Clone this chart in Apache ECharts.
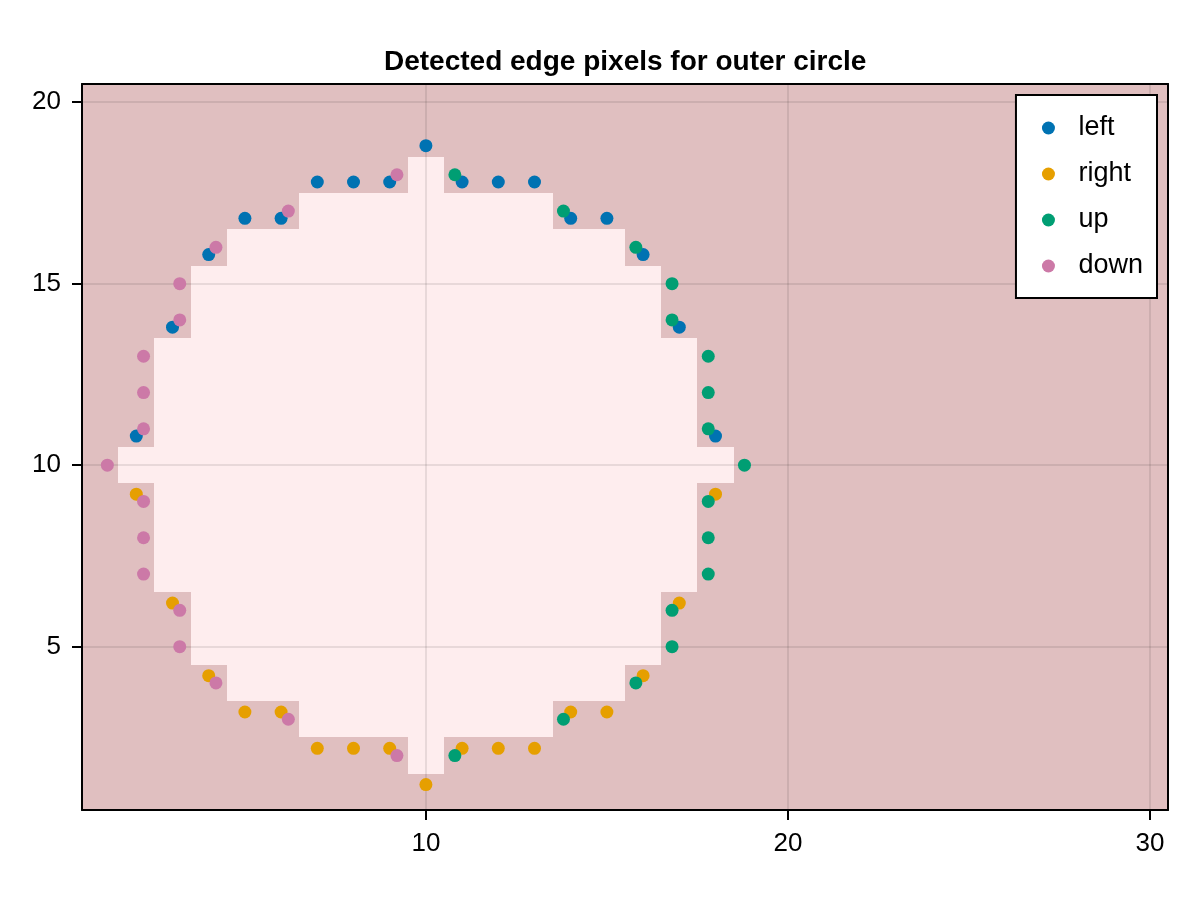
<!DOCTYPE html>
<html>
<head>
<meta charset="utf-8">
<script src="https://cdn.jsdelivr.net/npm/echarts@6/dist/echarts.min.js"></script>
<style>
  html, body { margin: 0; padding: 0; background: #fff; }
  #main { width: 1200px; height: 900px; }
</style>
</head>
<body>
<div id="main"></div>
<script>
var myChart = echarts.init(document.getElementById('main'));

// image size (pixels)
var nCols = 30;
var nRows = 20;

// filled pixels per row: [y, xFirst, xLast]
var insideRows = [
    [2, 10, 10], [3, 7, 13], [4, 5, 15], [5, 4, 16], [6, 4, 16],
    [7, 3, 17], [8, 3, 17], [9, 3, 17], [10, 2, 18], [11, 3, 17],
    [12, 3, 17], [13, 3, 17], [14, 4, 16], [15, 4, 16], [16, 5, 15],
    [17, 7, 13], [18, 10, 10]
];

// detected edge points
var leftPoints = [
    [10, 18.8], [7, 17.8], [8, 17.8], [9, 17.8], [11, 17.8], [12, 17.8], [13, 17.8],
    [5, 16.8], [6, 16.8], [14, 16.8], [15, 16.8], [4, 15.8], [16, 15.8],
    [3, 13.8], [17, 13.8], [2, 10.8], [18, 10.8]
];
var rightPoints = [
    [10, 1.2], [7, 2.2], [8, 2.2], [9, 2.2], [11, 2.2], [12, 2.2], [13, 2.2],
    [5, 3.2], [6, 3.2], [14, 3.2], [15, 3.2], [4, 4.2], [16, 4.2],
    [3, 6.2], [17, 6.2], [2, 9.2], [18, 9.2]
];
var upPoints = [
    [10.8, 18], [10.8, 2], [13.8, 17], [13.8, 3], [15.8, 16], [15.8, 4],
    [16.8, 15], [16.8, 14], [16.8, 6], [16.8, 5],
    [17.8, 13], [17.8, 12], [17.8, 11], [17.8, 9], [17.8, 8], [17.8, 7], [18.8, 10]
];
var downPoints = [
    [1.2, 10], [2.2, 13], [2.2, 12], [2.2, 11], [2.2, 9], [2.2, 8], [2.2, 7],
    [3.2, 15], [3.2, 14], [3.2, 6], [3.2, 5], [4.2, 16], [4.2, 4],
    [6.2, 17], [6.2, 3], [9.2, 18], [9.2, 2]
];

var xTicks = [10, 20, 30];
var yTicks = [5, 10, 15, 20];

// build the cell list for the image
var cells = [];
for (var y = 1; y <= nRows; y++) {
    var span = insideRows.filter(function (r) { return r[0] === y; })[0];
    for (var x = 1; x <= nCols; x++) {
        var v = span && x >= span[1] && x <= span[2] ? 1 : 0;
        cells.push([x, y, v]);
    }
}

var font = 'Liberation Sans, Arial, Helvetica, sans-serif';
var gridColor = 'rgba(0,0,0,0.085)';

function mainAxis(ticks, extra) {
    return Object.assign({
        type: 'value',
        z: 3,
        axisLine: { show: true, onZero: false, lineStyle: { color: '#000', width: 2 } },
        axisTick: { show: true, inside: false, length: 10, customValues: ticks,
                    lineStyle: { color: '#000', width: 2 } },
        splitLine: { show: true, lineStyle: { color: gridColor, width: 2 } }
    }, extra);
}

function frameAxis(extra) {
    return Object.assign({
        type: 'value',
        z: 3,
        axisLine: { show: true, onZero: false, lineStyle: { color: '#000', width: 2 } },
        axisTick: { show: false },
        axisLabel: { show: false },
        splitLine: { show: false }
    }, extra);
}

function scatter(name, data, color) {
    return {
        name: name,
        type: 'scatter',
        z: 5,
        symbol: 'circle',
        symbolSize: 13,
        itemStyle: { color: color, opacity: 1 },
        data: data
    };
}

myChart.setOption({
    animation: false,
    title: {
        text: 'Detected edge pixels for outer circle',
        left: 384,
        top: 48,
        padding: 0,
        textStyle: { fontSize: 28, fontWeight: 'bold', fontFamily: font, color: '#000' }
    },
    legend: {
        data: ['left', 'right', 'up', 'down'],
        orient: 'vertical',
        right: 43,
        top: 95,
        icon: 'circle',
        itemWidth: 50,
        itemHeight: 13,
        itemGap: 16,
        padding: [18, 14, 17, 26],
        backgroundColor: '#fff',
        borderColor: '#000',
        borderWidth: 2,
        borderRadius: 0,
        textStyle: { fontSize: 27, fontFamily: font, color: '#000', lineHeight: 30 }
    },
    grid: { left: 82, right: 32, top: 84, bottom: 90 },
    xAxis: [
        mainAxis(xTicks, { position: 'bottom', min: 0.5, max: nCols + 0.5,
            axisLabel: { customValues: xTicks, color: '#000', fontSize: 26, fontFamily: font, margin: 21 } }),
        frameAxis({ position: 'top', min: 0.5, max: nCols + 0.5 })
    ],
    yAxis: [
        mainAxis(yTicks, { position: 'left', min: 0.5, max: nRows + 0.5,
            axisLabel: { customValues: yTicks, color: '#000', fontSize: 26, fontFamily: font, margin: 21 } }),
        frameAxis({ position: 'right', min: 0.5, max: nRows + 0.5 })
    ],
    series: [
        {
            type: 'custom',
            z: 1,
            silent: true,
            encode: { x: 0, y: 1 },
            renderItem: function (params, api) {
                var cx = api.value(0), cy = api.value(1);
                var p0 = api.coord([cx - 0.5, cy + 0.5]);
                var p1 = api.coord([cx + 0.5, cy - 0.5]);
                var x0 = Math.round(p0[0]), y0 = Math.round(p0[1]);
                var x1 = Math.round(p1[0]), y1 = Math.round(p1[1]);
                return {
                    type: 'rect',
                    shape: { x: x0, y: y0, width: x1 - x0, height: y1 - y0 },
                    style: { fill: api.value(2) ? '#feedee' : '#e0bfc0' }
                };
            },
            data: cells
        },
        scatter('left', leftPoints, '#0072b2'),
        scatter('right', rightPoints, '#e69f00'),
        scatter('up', upPoints, '#009e73'),
        scatter('down', downPoints, '#cc79a7')
    ]
});
</script>
</body>
</html>
